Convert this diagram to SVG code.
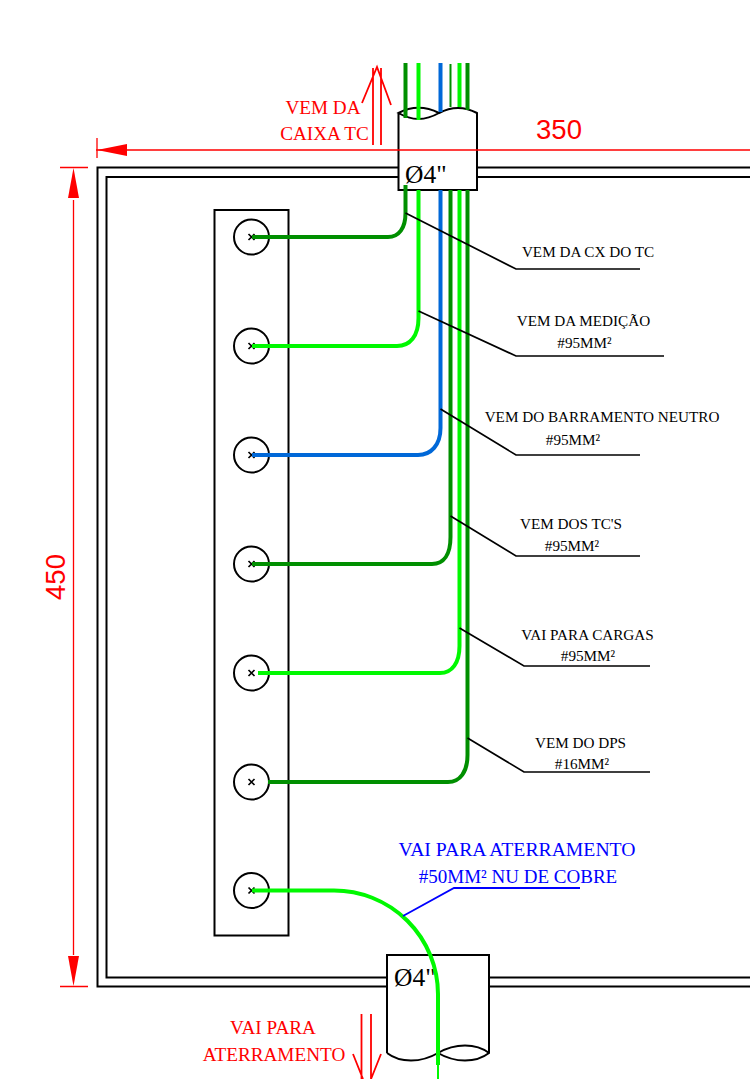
<svg xmlns="http://www.w3.org/2000/svg" width="750" height="1079" viewBox="0 0 750 1079">
<style>
.k{fill:none;stroke:#000;stroke-width:2}
.b{fill:none;stroke:#000;stroke-width:2}
.l{fill:none;stroke:#000;stroke-width:1.7}
.r{fill:none;stroke:#f00;stroke-width:1.3}
.w{fill:none;stroke-width:4;stroke-linejoin:round}
.dg{stroke:#008f00}.lg{stroke:#00f800}.bl{stroke:#0068d8}
.t{font-family:"Liberation Serif",serif;font-size:15.2px;fill:#000;text-anchor:middle}
.rt{font-family:"Liberation Serif",serif;font-size:19.2px;fill:#f00;text-anchor:middle}
.bt{font-family:"Liberation Serif",serif;font-size:19.7px;fill:#0000ff;text-anchor:middle}
.bt2{font-size:19px}
.d{font-family:"Liberation Sans",sans-serif;font-size:27.500px;fill:#f00;text-anchor:middle}
.o{font-family:"Liberation Serif",serif;font-size:25.500px;fill:#000}
</style>
<g id="panel">
<path class="b" d="M750 167.500H97.500V986.500H387M489 986.500H750"/>
<path class="b" d="M750 177H106.500V977.500H387M489 977.500H750"/>
</g>
<g id="busbar">
<rect class="k" x="214.500" y="210" width="74" height="725.500"/>
</g>
<g id="conduit-top">
<path d="M398.500 113C412 106 425 106 439 113C452 106 464 106 477 113V190H398.500Z" fill="#fff" stroke="none"/>
<path class="k" d="M398.500 113V190H477V113C464 106 452 106 439 113C425 121 412 121 398.500 113C412 106 425 106 439 113"/>
<text class="o" x="405" y="183">Ø4"</text>
</g>
<g id="dimensions">
<path class="r" d="M97 138V158M96 150H750M60 167.500H88M60 986.500H88M73.500 200V955"/>
<path d="M97 150L127 144V156Z" fill="#f00"/>
<path d="M73.500 168L68 198H79Z" fill="#f00"/>
<path d="M73.500 986L68 956H79Z" fill="#f00"/>
<text class="d" x="559" y="139">350</text>
<text class="d" transform="translate(65 577) rotate(-90)">450</text>
</g>
<g id="conduit-bottom">
<path d="M387 955H489V1053C476 1063 455 1063 438 1053C421 1063 400 1063 387 1053Z" fill="#fff" stroke="none"/>
<path class="k" d="M387 1053V955H489V1053C476 1063 455 1063 438 1053C421 1063 400 1063 387 1053M438 1053C455 1043 476 1043 489 1053"/>
<text class="o" x="394" y="986">Ø4"</text>
</g>
<g id="terminals">
<g id="t1"><circle class="k" cx="251.500" cy="237" r="17.500"/><path class="l" d="M248.500 234l6 6m0-6l-6 6"/></g>
<g id="t2"><circle class="k" cx="251.500" cy="346" r="17.500"/><path class="l" d="M248.500 343l6 6m0-6l-6 6"/></g>
<g id="t3"><circle class="k" cx="251.500" cy="455" r="17.500"/><path class="l" d="M248.500 452l6 6m0-6l-6 6"/></g>
<g id="t4"><circle class="k" cx="251.500" cy="564" r="17.500"/><path class="l" d="M248.500 561l6 6m0-6l-6 6"/></g>
<g id="t5"><circle class="k" cx="251.500" cy="673" r="17.500"/><path class="l" d="M248.500 670l6 6m0-6l-6 6"/></g>
<g id="t6"><circle class="k" cx="251.500" cy="782" r="17.500"/><path class="l" d="M248.500 779l6 6m0-6l-6 6"/></g>
<g id="t7"><circle class="k" cx="251.500" cy="890.500" r="17.500"/><path class="l" d="M248.500 887.500l6 6m0-6l-6 6"/></g>
</g>
<g id="connectors">
<path class="w dg" d="M405.500 63V118M405.500 185V213C405.500 228 399 237 388 237H252"/>
<path class="w lg" d="M418.500 63V120M418.500 190V318C418.500 336 410 346 397 346H252"/>
<path class="w bl" d="M440.500 63V112M440.500 190V428C440.500 445 431 455 418 455H252"/>
<path class="dg" fill="none" stroke-width="2" d="M450.500 64V107"/>
<path class="w dg" d="M450.500 190V537C450.500 554 444 564 432 564H252"/>
<path class="w lg" d="M459.500 63V107M459.500 190V646C459.500 663 452 673 440 673H258"/>
<path class="w dg" d="M467.500 63V110M467.500 190V755C467.500 772 460 782 448 782H268"/>
<path class="w lg" d="M252 890.500H334A104 104 0 0 1 438 994V1065"/>
<path stroke="#00f800" fill="none" stroke-width="2" d="M438 1065V1079"/>
<path class="l" d="M405.500 213L516 269H640M418.500 311L516 356H664M440.500 409L516 455H640M450.500 516L516 556H640M459.500 628L524 666H650M467.500 738L524 772H650"/>
<path fill="none" stroke="#0000ff" stroke-width="1.800" d="M403 916L454 888H580"/>
<path fill="none" stroke="#f00" stroke-width="1.800" d="M373 145V68M381 145V68M362 103L377 67L391 105M361.500 1014V1079M371 1014V1079M353 1054L363 1079M381 1054L371 1079"/>
</g>
<g id="labels">
<text class="rt" x="323" y="114">VEM DA</text>
<text class="rt" x="324.500" y="140">CAIXA TC</text>
<text class="rt" x="273" y="1034">VAI PARA</text>
<text class="rt" x="274" y="1061">ATERRAMENTO</text>
<text class="bt" x="517" y="856">VAI PARA ATERRAMENTO</text>
<text class="bt bt2" x="518" y="883">#50MM² NU DE COBRE</text>
<text class="t" x="588" y="257">VEM DA CX DO TC</text>
<text class="t" x="583.500" y="326">VEM DA MEDIÇÃO</text>
<text class="t" x="584.500" y="348">#95MM²</text>
<text class="t" x="602" y="422">VEM DO BARRAMENTO NEUTRO</text>
<text class="t" x="573" y="445">#95MM²</text>
<text class="t" x="571" y="529">VEM DOS TC'S</text>
<text class="t" x="572" y="551">#95MM²</text>
<text class="t" x="587.500" y="640">VAI PARA CARGAS</text>
<text class="t" x="588" y="661">#95MM²</text>
<text class="t" x="580.500" y="748">VEM DO DPS</text>
<text class="t" x="582" y="769">#16MM²</text>
</g>
</svg>
